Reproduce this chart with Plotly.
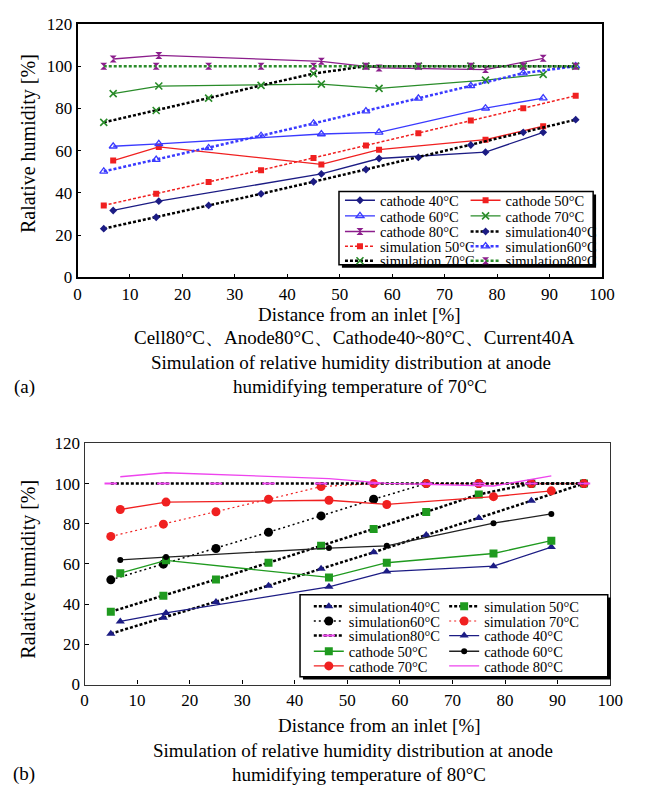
import plotly.graph_objects as go

W, H = 649, 797
FONT = "Liberation Serif"

# ---------------- data ----------------
sim_x = [5, 15, 25, 35, 45, 55, 65, 75, 85, 95]
cath_x = [6.8, 15.5, 46.5, 57.5, 77.8, 88.8]
x_ticks = [0, 10, 20, 30, 40, 50, 60, 70, 80, 90, 100]
y_ticks = [0, 20, 40, 60, 80, 100, 120]

# (a) anode humidifying temperature 70 C
a_cath40 = [31.7, 36.1, 49.0, 56.3, 59.3, 68.7]
a_cath50 = [55.3, 61.8, 53.5, 60.5, 65.2, 71.6]
a_cath60 = [62.1, 63.2, 67.9, 68.7, 80.1, 84.9]
a_cath70 = [87.0, 90.6, 91.5, 89.5, 93.4, 96.1]
a_cath80 = [103.4, 105.1, 102.3, 99.2, 98.4, 103.7]
a_sim40 = [23.1, 28.5, 34.1, 39.6, 45.3, 51.1, 56.8, 62.7, 68.7, 74.7]
a_sim50 = [34.1, 39.6, 45.2, 50.8, 56.6, 62.4, 68.2, 74.3, 80.1, 86.0]
a_sim60 = [50.2, 55.8, 61.3, 67.1, 72.9, 78.7, 84.8, 90.7, 96.7, 100.0]
a_sim70 = [73.4, 79.0, 84.9, 90.9, 96.5, 100.0, 100.0, 100.0, 100.0, 100.0]
a_sim80 = [100.0, 100.0, 100.0, 100.0, 100.0, 100.0, 100.0, 100.0, 100.0, 100.0]

# (b) anode humidifying temperature 80 C
b_sim40 = [25.3, 33.2, 41.0, 49.2, 57.6, 65.8, 74.4, 82.9, 91.5, 100.0]
b_sim50 = [36.2, 44.2, 52.3, 60.6, 69.0, 77.4, 85.9, 94.6, 100.0, 100.0]
b_sim60 = [52.1, 59.9, 67.7, 75.8, 83.9, 92.2, 100.0, 100.0, 100.0, 100.0]
b_sim70 = [73.7, 79.8, 86.0, 92.2, 98.5, 100.0, 100.0, 100.0, 100.0, 100.0]
b_sim80 = [100.0, 100.0, 100.0, 100.0, 100.0, 100.0, 100.0, 100.0, 100.0, 100.0]
b_cath40 = [31.4, 35.6, 48.6, 56.2, 58.9, 68.4]
b_cath50 = [55.4, 61.8, 53.3, 60.6, 65.2, 71.6]
b_cath60 = [62.0, 63.4, 67.9, 69.0, 80.3, 84.9]
b_cath70 = [87.1, 90.8, 91.7, 89.6, 93.5, 96.4]
b_cath80 = [103.4, 105.4, 102.5, 100.1, 98.8, 103.8]

# ---------------- styles ----------------
NAVY = "#1c1c84"
RED = "#f02020"
BLUE = "#3a3aff"
GREEN = "#2a8c2a"
PURPLE = "#8c1e8c"
MAG = "#ee44ee"
BGREEN = "#1f9a1f"
DOTS = "3px,2px"
DOTS_THIN = "2px,3px"

fig = go.Figure()

legend_count = [0]
legend_layouts = {}


def add(name, x, y, xa, ya, color, width, dash, symbol, msize, mcolor,
        lx, ly, mline=None, mode="lines+markers"):
    legend_count[0] += 1
    n = legend_count[0]
    lid = "legend" if n == 1 else f"legend{n}"
    marker = dict(symbol=symbol, size=msize, color=mcolor)
    if mline is not None:
        marker["line"] = dict(color=mcolor, width=mline)
    else:
        marker["line"] = dict(width=0)
    fig.add_trace(go.Scatter(
        x=x, y=y, name=name, xaxis=xa, yaxis=ya, mode=mode,
        line=dict(color=color, width=width, dash=dash),
        marker=marker, legend=lid, showlegend=True,
    ))
    legend_layouts[lid] = dict(
        x=lx / W, y=1 - ly / H, xanchor="left", yanchor="middle",
        bgcolor="rgba(0,0,0,0)", borderwidth=0, itemwidth=30,
        font=dict(family=FONT, size=14.5, color="black"),
    )


# ---- (a) ----
ca1, ca2 = 345, 474
ra = [196, 212, 228, 243, 258]
add("cathode 40°C", cath_x, a_cath40, "x", "y", NAVY, 1.3, "solid", "diamond", 6, NAVY, ca1, ra[0])
add("cathode 50°C", cath_x, a_cath50, "x", "y", RED, 1.3, "solid", "square", 6, RED, ca2, ra[0])
add("cathode 60°C", cath_x, a_cath60, "x", "y", BLUE, 1.3, "solid", "triangle-up-open", 7, BLUE, ca1, ra[1], mline=1.3)
add("cathode 70°C", cath_x, a_cath70, "x", "y", GREEN, 1.3, "solid", "x-thin", 7, GREEN, ca2, ra[1], mline=1.6)
add("cathode 80°C", cath_x, a_cath80, "x", "y", PURPLE, 1.3, "solid", "hourglass", 7, PURPLE, ca1, ra[2])
add("simulation40°C", sim_x, a_sim40, "x", "y", "black", 2.5, DOTS, "diamond", 6, NAVY, ca2, ra[2])
add("simulation 50°C", sim_x, a_sim50, "x", "y", RED, 1.5, DOTS, "square", 6, RED, ca1, ra[3])
add("simulation60°C", sim_x, a_sim60, "x", "y", BLUE, 2.5, DOTS, "triangle-up-open", 7, BLUE, ca2, ra[3], mline=1.3)
add("simulation 70°C", sim_x, a_sim70, "x", "y", "black", 2.5, DOTS, "x-thin", 7, GREEN, ca1, ra[4], mline=1.6)
add("simulation80°C", sim_x, a_sim80, "x", "y", GREEN, 2.5, DOTS, "hourglass", 7, PURPLE, ca2, ra[4])

# ---- (b) ----
cb1, cb2 = 313, 452
rb = [612, 627, 642, 658, 673]
add("simulation40°C", sim_x, b_sim40, "x2", "y2", "black", 2.5, DOTS, "triangle-up", 8, NAVY, cb1, rb[0])
add("simulation 50°C", sim_x, b_sim50, "x2", "y2", "black", 2.5, DOTS, "square", 8, BGREEN, cb2, rb[0])
add("simulation60°C", sim_x, b_sim60, "x2", "y2", "black", 1.5, DOTS_THIN, "circle", 9, "black", cb1, rb[1])
add("simulation 70°C", sim_x, b_sim70, "x2", "y2", RED, 1.2, DOTS_THIN, "circle", 9, RED, cb2, rb[1])
add("simulation80°C", sim_x, b_sim80, "x2", "y2", "black", 2.5, DOTS, "line-ew", 9, MAG, cb1, rb[2], mline=2)
add("cathode 40°C", cath_x, b_cath40, "x2", "y2", NAVY, 1.3, "solid", "triangle-up", 8, NAVY, cb2, rb[2])
add("cathode 50°C", cath_x, b_cath50, "x2", "y2", BGREEN, 1.3, "solid", "square", 8, BGREEN, cb1, rb[3])
add("cathode 60°C", cath_x, b_cath60, "x2", "y2", "#222222", 1.3, "solid", "circle", 6, "black", cb2, rb[3])
add("cathode 70°C", cath_x, b_cath70, "x2", "y2", RED, 1.3, "solid", "circle", 9, RED, cb1, rb[4])
add("cathode 80°C", cath_x, b_cath80, "x2", "y2", MAG, 1.3, "solid", "circle", 1, MAG, cb2, rb[4], mode="lines")


# ---------------- axes ----------------
def px_dom_x(a, b):
    return [a / W, b / W]


def px_dom_y(top, bottom):
    return [1 - bottom / H, 1 - top / H]


axis_common = dict(
    showgrid=False, zeroline=False, showline=True, mirror=True,
    ticks="inside", ticklen=4, tickwidth=1.2, tickcolor="black",
    tickfont=dict(family=FONT, size=17, color="black"),
)

fig.update_layout(
    width=W, height=H, margin=dict(l=0, r=0, t=0, b=0),
    paper_bgcolor="white", plot_bgcolor="white",
    xaxis=dict(domain=px_dom_x(75.5, 614), range=[0, 100], tickvals=x_ticks,
               anchor="y", linecolor="black", linewidth=1.6, **axis_common),
    yaxis=dict(domain=px_dom_y(15.3, 275), range=[0, 120], tickvals=y_ticks,
               anchor="x", linecolor="black", linewidth=1.6, **axis_common),
    xaxis2=dict(domain=px_dom_x(82.7, 622.5), range=[0, 100], tickvals=x_ticks,
                anchor="y2", linecolor="#333333", linewidth=1.3, **axis_common),
    yaxis2=dict(domain=px_dom_y(445, 692), range=[0, 120], tickvals=y_ticks,
                anchor="x2", linecolor="#333333", linewidth=1.3, **axis_common),
    font=dict(family=FONT, color="black"),
)
fig.update_layout(**legend_layouts)


# legend frames (with a slight drop shadow)
def frame(x0, y0, x1, y1):
    return [
        dict(type="rect", xref="paper", yref="paper",
             x0=(x0 + 3) / W, x1=(x1 + 3) / W, y0=1 - (y1 + 3) / H, y1=1 - (y0 + 3) / H,
             fillcolor="black", line=dict(width=0), layer="above"),
        dict(type="rect", xref="paper", yref="paper",
             x0=x0 / W, x1=x1 / W, y0=1 - y1 / H, y1=1 - y0 / H,
             fillcolor="white", line=dict(color="black", width=1.5), layer="above"),
    ]


fig.update_layout(shapes=frame(344, 187, 605, 262) + frame(304, 600, 620, 684))

# ---------------- texts ----------------
texts = [
    (365, 312.5, "Distance from an inlet [%]", 19),
    (360, 337, "Cell80°C、Anode80°C、Cathode40~80°C、Current40A", 19),
    (356, 362, "Simulation of relative humidity distribution at anode", 19),
    (366, 387, "humidifying temperature of 70°C", 19),
    (386, 734, "Distance from an inlet [%]", 19),
    (358, 760, "Simulation of relative humidity distribution at anode", 19),
    (365, 784, "humidifying temperature of 80°C", 19),
]
ann = []
for x, y, t, s in texts:
    ann.append(dict(x=x / W, y=1 - y / H, xref="paper", yref="paper", text=t,
                    showarrow=False, xanchor="center", yanchor="middle",
                    font=dict(family=FONT, size=s, color="black")))
for x, y, t in [(21, 387, "(a)"), (21, 784, "(b)")]:
    ann.append(dict(x=x / W, y=1 - y / H, xref="paper", yref="paper", text=t,
                    showarrow=False, xanchor="center", yanchor="middle",
                    font=dict(family=FONT, size=19, color="black")))
for x, y in [(25, 138), (25, 574)]:
    ann.append(dict(x=x / W, y=1 - y / H, xref="paper", yref="paper",
                    text="Ralative humidity [%]", textangle=-90,
                    showarrow=False, xanchor="center", yanchor="middle",
                    font=dict(family=FONT, size=20, color="black")))
fig.update_layout(annotations=ann)

fig.write_html("out.html")
